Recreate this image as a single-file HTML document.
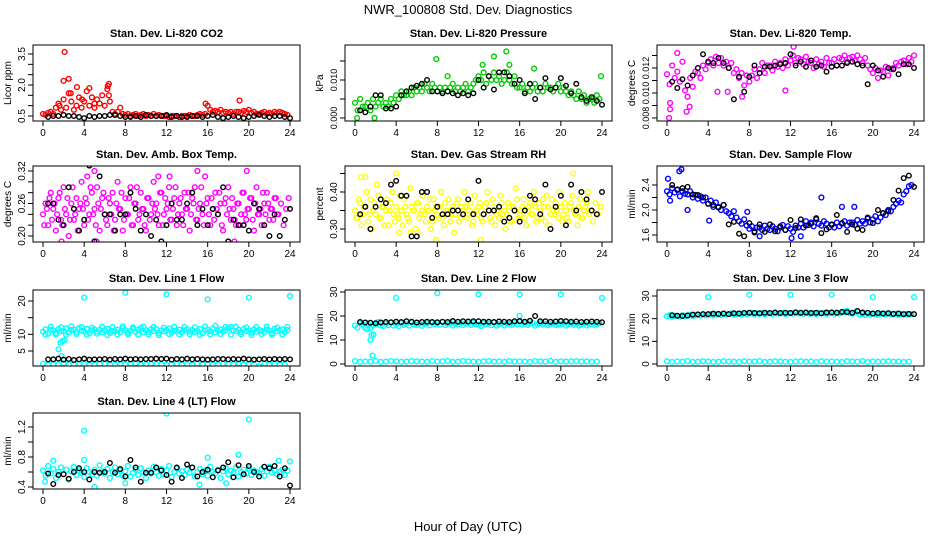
<!DOCTYPE html>
<html><head><meta charset="utf-8"><style>
html,body{margin:0;padding:0;background:#fff}
svg{display:block;font-family:"Liberation Sans",sans-serif}
</style></head><body>
<svg id="chart" width="936" height="540" viewBox="0 0 936 540" xmlns="http://www.w3.org/2000/svg">
<rect width="936" height="540" fill="#fff"/>
<text x="468" y="14" font-size="13" text-anchor="middle">NWR_100808  Std. Dev. Diagnostics</text>
<text x="468" y="531" font-size="13" text-anchor="middle">Hour of Day (UTC)</text>
</svg>
<script>
const xTicks=[0,4,8,12,16,20,24];
// ---- CO2 ----
const co2Red=[0.6,0.55,0.65,0.7,0.6,0.9,1.1,0.8,1.3,0.9,1.6,1.2,0.8,1.0,1.4,0.9,1.2,1.7,1.0,1.4,0.9,1.3,1.1,1.5,1.0,1.8,1.2,0.7,0.6,0.7,0.9,0.6,0.55,0.6,0.5,0.55,0.6,0.5,0.55,0.6,0.5,0.55,0.5,0.6,0.5,0.55,0.5,0.5,0.5,0.45,0.5,0.5,0.5,0.45,0.5,0.5,0.5,0.55,0.5,0.5,0.55,0.6,0.55,0.6,1.0,0.8,0.7,0.75,0.7,0.8,0.65,0.7,0.65,0.7,0.6,0.7,0.7,0.65,0.75,0.7,0.8,0.65,0.7,0.6,0.6,0.65,0.7,0.6,0.65,0.6,0.7,0.65,0.7,0.65,0.6,0.55];
const co2OutT=[2.1,2.0,2.5,3.3,4.5,6.4,6.3,6.4,19.1,3.8,2.7,5.0,15.8,1.6];
const co2OutV=[3.6,2.2,2.3,1.9,1.85,2.05,1.95,1.5,1.25,1.3,1.6,1.1,1.1,1.0];
const co2Black=[0.45,0.5,0.5,0.55,0.5,0.5,0.45,0.4,0.5,0.45,0.5,0.5,0.55,0.55,0.5,0.45,0.45,0.5,0.45,0.55,0.5,0.5,0.5,0.55,0.45,0.5,0.45,0.45,0.5,0.5,0.45,0.5,0.55,0.45,0.4,0.45,0.5,0.45,0.4,0.45,0.5,0.55,0.5,0.45,0.5,0.5,0.45,0.4];
// ---- Pressure ----
const presGreen=[0.004,0.002,0.005,0.003,0.003,0.004,0.002,0.005,0.003,0.004,0.005,0.003,0.004,0.003,0.005,0.004,0.006,0.005,0.007,0.006,0.006,0.007,0.006,0.008,0.007,0.008,0.007,0.009,0.008,0.007,0.009,0.008,0.007,0.008,0.007,0.008,0.007,0.008,0.009,0.007,0.008,0.007,0.008,0.009,0.007,0.008,0.009,0.010,0.011,0.010,0.012,0.009,0.011,0.010,0.012,0.010,0.011,0.009,0.010,0.012,0.010,0.009,0.011,0.008,0.008,0.009,0.007,0.008,0.007,0.008,0.009,0.007,0.008,0.007,0.009,0.008,0.008,0.007,0.008,0.009,0.007,0.008,0.007,0.006,0.007,0.006,0.005,0.007,0.005,0.006,0.004,0.005,0.005,0.004,0.006,0.005];
const presOutT=[7.9,0.2,1.9,14.7,13.5,15.0,23.9,12.4,9.0,17.4];
const presOutV=[0.0155,0.0,0.0,0.0175,0.0162,0.014,0.011,0.014,0.011,0.013];
const presBlack=[0.002,0.0015,0.003,0.006,0.006,0.0025,0.0025,0.003,0.006,0.007,0.008,0.0085,0.009,0.010,0.007,0.007,0.0065,0.007,0.0065,0.006,0.0065,0.006,0.0065,0.010,0.008,0.011,0.0075,0.012,0.012,0.011,0.009,0.010,0.0065,0.009,0.005,0.008,0.0105,0.0075,0.008,0.0105,0.0085,0.0065,0.009,0.0055,0.0045,0.0055,0.0045,0.0035];
// ---- Li-820 Temp ----
const tempMag=[0.0115,0.0107,0.0122,0.0112,0.0117,0.0109,0.0125,0.0102,0.0097,0.0112,0.0105,0.0117,0.0116,0.0112,0.0122,0.0119,0.0124,0.0127,0.0122,0.0129,0.0124,0.0128,0.0122,0.0125,0.0120,0.0124,0.0116,0.0119,0.0112,0.0116,0.0106,0.0114,0.0109,0.0114,0.0119,0.0112,0.0119,0.0124,0.0116,0.0122,0.0122,0.0118,0.0125,0.0121,0.0124,0.0120,0.0127,0.0122,0.0126,0.0130,0.0124,0.0128,0.0127,0.0123,0.0129,0.0125,0.0124,0.0120,0.0127,0.0123,0.0125,0.0121,0.0128,0.0124,0.0124,0.0127,0.0122,0.0128,0.0127,0.0130,0.0125,0.0128,0.0129,0.0126,0.0130,0.0127,0.0124,0.0128,0.0122,0.0119,0.0116,0.0120,0.0112,0.0118,0.0117,0.0121,0.0114,0.0119,0.0120,0.0124,0.0122,0.0125,0.0126,0.0123,0.0128,0.0125];
const tempOutT=[0.2,0.3,0.3,2.2,1.9,1.0,12.3,4.9,5.9,11.5,24,7.3];
const tempOutV=[0.0080,0.0087,0.0092,0.0089,0.0085,0.0132,0.0137,0.0101,0.0101,0.0102,0.0130,0.0097];
const tempBlack=[0.0109,0.0104,0.0111,0.0106,0.0114,0.0120,0.0131,0.0125,0.0124,0.0128,0.0124,0.0120,0.0095,0.0113,0.0101,0.0113,0.0122,0.0116,0.0121,0.0121,0.0122,0.0123,0.0124,0.0131,0.0122,0.0125,0.0121,0.0126,0.0121,0.0122,0.0117,0.0121,0.0122,0.0122,0.0124,0.0125,0.0123,0.0122,0.0107,0.0122,0.0118,0.0113,0.0120,0.0119,0.0115,0.0123,0.0123,0.0120];
// ---- Amb box temp ----
const ambMagA=[0.24,0.26,0.22,0.28,0.25,0.21,0.27,0.23,0.29,0.24,0.20,0.26,0.23,0.27,0.25,0.30,0.22,0.26,0.24,0.28,0.25,0.29,0.21,0.27,0.24,0.22,0.26,0.28,0.23,0.30,0.25,0.21,0.27,0.24,0.29,0.22,0.26,0.23,0.28,0.25,0.21,0.27,0.24,0.30,0.26,0.22,0.28,0.24,0.25,0.29,0.23,0.27,0.22,0.26,0.24,0.28,0.25,0.21,0.27,0.29,0.23,0.26,0.24,0.31,0.27,0.22,0.25,0.28,0.24,0.26,0.21,0.27,0.29,0.23,0.25,0.22,0.26,0.24,0.28,0.23,0.25,0.27,0.21,0.29,0.24,0.22,0.26,0.28,0.23,0.25,0.27,0.24];
const ambMagB=[0.22,0.25,0.27,0.23,0.26,0.24,0.28,0.22,0.25,0.27,0.23,0.29,0.24,0.21,0.26,0.25,0.27,0.23,0.29,0.24,0.22,0.26,0.25,0.28,0.23,0.27,0.24,0.21,0.26,0.25,0.28,0.23,0.24,0.27,0.22,0.26,0.29,0.24,0.25,0.22,0.27,0.23,0.26,0.25,0.24,0.28,0.22,0.27,0.26,0.23,0.25,0.29,0.24,0.27,0.22,0.25,0.28,0.24,0.26,0.23,0.25,0.29,0.22,0.26,0.24,0.27,0.23,0.25,0.28,0.22,0.26,0.24,0.25,0.27,0.23,0.26,0.22,0.28,0.24,0.25,0.27,0.23,0.26,0.24,0.25,0.28,0.24,0.26,0.25,0.23,0.27,0.24,0.26,0.22,0.25,0.27];
const ambOutT=[5.0,12.3,15.0,19.8,4.3,11.2,18.6,1.8,5.2];
const ambOutV=[0.32,0.31,0.32,0.32,0.31,0.31,0.19,0.19,0.19];
const ambBlack=[0.26,0.26,0.23,0.22,0.29,0.25,0.21,0.23,0.33,0.19,0.31,0.24,0.24,0.21,0.24,0.24,0.28,0.25,0.21,0.24,0.20,0.23,0.19,0.22,0.26,0.23,0.23,0.26,0.28,0.22,0.25,0.22,0.25,0.24,0.29,0.19,0.23,0.22,0.22,0.21,0.26,0.25,0.22,0.20,0.24,0.20,0.23,0.25];
// ---- Gas stream RH ----
const rhYelA=[0.35,0.33,0.37,0.34,0.36,0.32,0.38,0.35,0.34,0.39,0.33,0.36,0.35,0.31,0.37,0.34,0.36,0.33,0.35,0.38,0.34,0.32,0.36,0.35,0.37,0.33,0.35,0.34,0.36,0.38,0.32,0.35,0.34,0.36,0.33,0.37,0.35,0.32,0.36,0.34,0.38,0.33,0.35,0.36,0.34,0.37,0.32,0.35,0.36,0.33,0.34,0.37,0.35,0.32,0.36,0.34,0.33,0.37,0.35,0.34,0.36,0.32,0.35,0.38,0.34,0.36,0.33,0.35,0.37,0.34,0.36,0.33,0.35,0.38,0.32,0.36,0.34,0.35,0.37,0.33,0.36,0.34,0.35,0.32,0.37,0.35,0.34,0.36,0.33,0.35,0.37,0.34];
const rhYelB=[0.33,0.38,0.31,0.36,0.40,0.34,0.30,0.37,0.42,0.33,0.36,0.31,0.38,0.35,0.40,0.32,0.34,0.39,0.31,0.36,0.33,0.41,0.35,0.30,0.37,0.34,0.39,0.32,0.35,0.30,0.38,0.36,0.33,0.40,0.31,0.35,0.38,0.34,0.29,0.37,0.32,0.36,0.40,0.33,0.35,0.31,0.39,0.34,0.37,0.32,0.36,0.40,0.33,0.38,0.31,0.35,0.39,0.34,0.30,0.37,0.32,0.36,0.41,0.33,0.35,0.38,0.31,0.36,0.34,0.40,0.32,0.37,0.33,0.36,0.39,0.31,0.38,0.34,0.35,0.40,0.32,0.37,0.33,0.36,0.39,0.34,0.31,0.38,0.33,0.36,0.40,0.35,0.32,0.37,0.34,0.36];
const rhOutT=[0.6,1.0,4.0,12.2,21.2,7.9,4.3,5.4,6.1];
const rhOutV=[0.44,0.44,0.45,0.27,0.45,0.27,0.29,0.29,0.29];
const rhBlack=[0.34,0.36,0.30,0.36,0.38,0.37,0.42,0.43,0.39,0.39,0.28,0.28,0.40,0.40,0.33,0.36,0.34,0.34,0.35,0.35,0.34,0.38,0.34,0.43,0.34,0.35,0.35,0.36,0.32,0.33,0.35,0.32,0.35,0.39,0.38,0.34,0.42,0.30,0.36,0.39,0.31,0.42,0.35,0.40,0.38,0.35,0.34,0.40];
// ---- Sample flow ----
const sfBlue=[2.30,2.25,2.35,2.28,2.32,2.22,2.30,2.26,2.25,2.30,2.20,2.24,2.18,2.22,2.15,2.20,2.10,2.15,2.05,2.12,2.05,2.00,2.08,1.98,1.95,1.90,1.98,1.88,1.82,1.78,1.85,1.75,1.70,1.74,1.66,1.72,1.72,1.68,1.75,1.70,1.68,1.74,1.70,1.66,1.72,1.76,1.68,1.74,1.70,1.65,1.75,1.72,1.78,1.72,1.82,1.76,1.80,1.74,1.85,1.78,1.75,1.82,1.78,1.72,1.76,1.72,1.80,1.74,1.78,1.82,1.75,1.80,1.80,1.76,1.84,1.78,1.82,1.78,1.86,1.80,1.85,1.90,1.82,1.88,1.95,1.92,2.00,1.98,2.05,2.10,2.15,2.12,2.25,2.30,2.38,2.40];
const sfOutT=[1.2,1.4,0.1,2.0,15.0,17.0,18.2,4.1,12.1,7.8,0.3,9.0,13.0];
const sfOutV=[2.62,2.65,2.5,2.0,2.2,2.05,2.05,1.83,1.55,1.97,2.15,1.58,1.58];
const sfBlack=[2.40,2.33,2.35,2.37,2.25,2.24,2.20,2.10,2.08,2.04,2.08,1.77,1.81,1.62,1.58,1.79,1.64,1.77,1.65,1.77,1.66,1.74,1.68,1.84,1.71,1.85,1.75,1.78,1.87,1.63,1.69,1.77,1.92,1.79,1.65,1.77,1.70,1.68,1.88,1.79,2.00,1.95,1.98,2.16,2.31,2.51,2.55,2.37];
// ---- Line 1 flow ----
const l1Upper=[10.8,11.5,10.2,11.3,11.2,10.4,11.6,10.9,11.0,11.8,10.5,11.3,11.4,10.7,11.9,11.1,10.9,11.6,10.3,11.2,11.5,10.8,11.3,10.6,11.2,11.7,10.4,11.0,10.9,11.4,10.6,11.8,11.3,10.5,11.1,11.7,10.8,11.4,11.9,10.6,11.2,10.7,11.5,11.0,11.6,10.4,11.2,10.9,11.3,11.8,10.5,11.1,10.9,11.4,10.6,11.2,11.5,10.8,11.3,10.7,11.0,11.6,10.3,11.2,11.4,10.9,11.7,10.6,11.1,11.5,10.8,11.3,11.9,12.3,11.2,10.9,11.4,10.7,11.6,11.0,11.2,10.5,11.5,10.8,11.3,11.0,10.6,11.4,11.1,10.4,11.7,10.9,11.2,11.5,10.6,11.3];
const l1UpperB=[9.9,12.3,10.0,12.1,9.8,12.4,10.1,12.2,9.9,12.0,10.2,12.3,9.8,12.2,10.0,12.4,10.1,12.1,9.9,12.3,10.0,12.2,9.8,12.0,10.1,12.3,9.9,12.2,10.0,12.1,9.8,12.4,10.0,12.6,10.1,12.2,9.9,12.3,10.0,12.1,9.8,12.2,10.1,12.3,9.9,12.0,10.0,12.2];
const l1Lower=[1.2,0.9,1.1,1.0,1.3,0.9,1.0,1.2,1.1,0.9,1.0,1.2,1.1,1.0,0.9,1.2,1.0,1.1,1.3,0.9,1.0,1.2,1.1,1.0,0.9,1.1,1.2,1.0,1.1,0.9,1.2,1.0,1.1,1.0,0.9,1.2,1.1,1.0,1.3,0.9,1.1,1.0,0.4,1.2,1.0,1.1,0.9,1.0];
const l1OutT=[1.5,1.7,1.9,1.8,2.1,4.0,8.0,12.0,16.0,20.0,24.0];
const l1OutV=[5.5,7.5,8.0,3.5,8.2,21.0,22.5,22.0,20.5,21.0,21.5];
const l1Black=[2.5,2.5,2.7,2.4,2.6,2.3,2.5,2.7,2.4,2.5,2.5,2.6,2.4,2.6,2.5,2.7,2.5,2.6,2.5,2.6,2.6,2.7,2.6,2.7,2.4,2.6,2.5,2.7,2.5,2.6,2.5,2.4,2.5,2.6,2.6,2.5,2.6,2.5,2.7,2.5,2.4,2.5,2.6,2.5,2.6,2.5,2.6,2.5];
// ---- Line 2 flow ----
const l2Upper=[16.0,15.2,17.0,16.5,15.0,16.8,14.8,16.2,16.5,17.5,16.0,15.8,16.8,16.2,17.2,16.0,16.5,15.8,17.0,16.3,16.8,16.0,17.3,16.4,16.2,17.0,15.9,16.6,16.9,16.1,17.2,16.5,17.0,16.4,17.5,16.2,16.8,17.2,16.0,16.7,16.5,17.1,16.2,16.8,16.9,16.3,17.2,16.6,16.4,15.8,17.0,16.5,16.8,16.2,17.3,16.0,16.6,17.0,16.1,16.8,16.7,16.3,17.1,16.5,17.6,16.4,16.9,16.2,16.8,17.2,16.0,16.5,17.0,16.4,16.8,16.1,16.6,17.0,16.2,16.8,16.5,17.1,16.0,16.6,16.9,16.3,16.7,16.0,16.4,16.9,16.1,16.6,16.8,16.2,16.5,16.9];
const l2Lower=[1.2,0.9,1.1,1.0,1.3,0.9,1.0,1.2,1.1,0.9,1.0,1.2,1.1,1.0,0.9,1.2,1.0,1.1,1.3,0.9,1.0,1.2,1.1,1.0,0.9,1.1,1.2,1.0,1.1,0.9,1.2,1.0,1.1,1.0,0.9,1.2,1.1,1.0,1.3,0.9,1.1,1.0,1.1,1.2,1.0,1.1,0.9,1.0];
const l2OutT=[1.2,1.5,1.6,1.8,1.7,4.0,8.0,12.0,16.0,20.0,24.0,16.0,19.8];
const l2OutV=[14.5,10.0,12.0,12.3,3.5,27.5,29.5,29.0,29.0,29.0,27.5,20.0,16.5];
const l2Black=[17.5,17.3,17.2,17.0,17.3,17.5,17.4,17.6,17.5,17.8,17.6,17.3,17.5,17.6,17.5,17.4,17.6,17.5,17.9,17.6,17.8,17.7,17.8,17.8,17.6,17.6,17.5,17.7,17.6,17.5,17.8,17.9,17.6,18.0,20.0,17.8,17.8,17.6,17.7,17.9,17.8,17.6,17.7,17.5,17.6,17.7,17.6,17.4];
// ---- Line 3 flow ----
const l3Upper=[21.0,21.5,20.8,21.3,21.2,20.9,21.6,21.0,21.4,21.8,21.2,21.5,21.6,21.3,21.9,21.5,21.7,22.0,21.4,21.8,21.9,21.6,22.2,21.8,22.0,22.3,21.7,22.1,22.2,21.9,22.5,22.0,22.3,22.6,22.0,22.4,22.2,22.5,21.9,22.3,22.4,22.1,22.6,22.2,22.3,22.6,22.0,22.4,22.5,22.2,22.7,22.3,22.4,22.1,22.6,22.3,22.2,22.5,22.0,22.4,22.3,22.6,22.1,22.4,22.5,22.2,22.7,22.3,22.6,23.0,23.5,22.4,22.2,22.8,23.2,21.8,22.1,21.6,22.4,21.9,22.3,22.0,21.7,22.2,22.1,21.8,22.4,22.0,21.9,22.2,21.6,22.0,21.8,22.1,21.7,22.0];
const l3Lower=[1.2,0.9,1.1,1.0,1.3,0.9,1.0,1.2,1.1,0.9,1.0,1.2,1.1,1.0,0.9,1.2,1.0,1.1,1.3,0.9,1.0,1.2,1.1,1.0,0.9,1.1,1.2,1.0,1.1,0.9,1.2,1.0,1.1,1.0,0.9,1.2,1.1,1.0,1.3,0.9,1.1,1.0,1.1,1.2,1.0,1.1,0.9,1.0];
const l3OutT=[4.0,8.0,12.0,16.0,20.0,24.0];
const l3OutV=[29.5,30.5,30.5,30.5,29.5,29.5];
const l3Black=[21.5,21.3,21.2,21.4,21.8,21.9,22.0,22.0,22.2,22.1,22.3,22.0,22.4,22.3,22.5,22.6,22.5,22.4,22.6,22.5,22.7,22.5,22.6,22.5,22.8,22.6,22.7,22.5,22.6,22.4,22.7,22.8,22.6,23.0,22.9,22.6,23.4,22.7,22.6,22.3,22.5,22.3,22.4,22.1,22.3,22.0,22.1,22.0];
// ---- Line 4 flow ----
const l4Cyan=[0.62,0.55,0.68,0.58,0.64,0.52,0.60,0.66,0.57,0.63,0.50,0.61,0.67,0.56,0.62,0.59,0.53,0.65,0.60,0.57,0.63,0.55,0.69,0.61,0.58,0.64,0.52,0.60,0.66,0.57,0.62,0.55,0.61,0.68,0.54,0.59,0.63,0.56,0.65,0.60,0.52,0.62,0.58,0.67,0.60,0.55,0.64,0.57,0.62,0.68,0.53,0.60,0.65,0.58,0.61,0.56,0.63,0.59,0.66,0.54,0.60,0.64,0.57,0.62,0.55,0.67,0.60,0.58,0.63,0.52,0.61,0.65,0.57,0.62,0.59,0.66,0.54,0.60,0.63,0.58,0.65,0.56,0.62,0.60,0.58,0.64,0.55,0.61,0.67,0.59,0.62,0.57,0.60,0.63,0.56,0.62];
const l4OutT=[4.0,12.0,20.0,19.0,5.0,0.2,1.0,4.0,16.0,22.9,24.0,15.2,8.0,17.8];
const l4OutV=[1.15,1.38,1.3,0.83,0.4,0.47,0.75,0.76,0.79,0.75,0.74,0.43,0.45,0.45];
const l4Black=[0.58,0.44,0.56,0.57,0.51,0.60,0.65,0.60,0.50,0.60,0.59,0.60,0.72,0.59,0.64,0.54,0.76,0.66,0.47,0.59,0.59,0.66,0.62,0.56,0.47,0.66,0.52,0.70,0.66,0.54,0.60,0.63,0.53,0.62,0.66,0.73,0.53,0.69,0.57,0.68,0.60,0.54,0.67,0.65,0.68,0.54,0.65,0.42];

const NS='http://www.w3.org/2000/svg';
const svg=document.getElementById('chart');
const rowTops=[45,166,290,413];
function el(tag,attrs,parent){const e=document.createElementNS(NS,tag);for(const k in attrs)e.setAttribute(k,attrs[k]);(parent||svg).appendChild(e);return e;}

const panels=[
 {key:'co2',title:'Stan. Dev. Li-820 CO2',ylab:'Licor ppm',r:0,c:0,ref:[0.5,116,3.5,54],ticks:[0.5,1,1.5,2,2.5,3,3.5],labs:[0.5,2.0,3.5],dec:1,col:'#ff0000',
  series:[[co2Red,0,0.25]],outT:co2OutT,outV:co2OutV,black:co2Black},
 {key:'pressure',title:'Stan. Dev. Li-820 Pressure',ylab:'kPa',r:0,c:1,ref:[0,118,0.010,80],ticks:[0,0.005,0.010,0.015],labs:[0,0.010],dec:3,col:'#00cc00',
  series:[[presGreen,0,0.25]],outT:presOutT,outV:presOutV,black:presBlack},
 {key:'li820-temp',title:'Stan. Dev. Li-820 Temp.',ylab:'degrees C',r:0,c:2,ref:[0.008,118,0.012,68],ticks:[0.008,0.009,0.010,0.011,0.012,0.013],labs:[0.008,0.010,0.012],dec:3,col:'#ff00ff',
  series:[[tempMag,0,0.25]],outT:tempOutT,outV:tempOutV,black:tempBlack},
 {key:'amb-box-temp',title:'Stan. Dev. Amb. Box Temp.',ylab:'degrees C',r:1,c:0,ref:[0.20,236,0.32,171],ticks:[0.20,0.22,0.24,0.26,0.28,0.30,0.32],labs:[0.20,0.26,0.32],dec:2,col:'#ff00ff',
  series:[[ambMagA,0,0.25],[ambMagB,0.125,0.25]],outT:ambOutT,outV:ambOutV,black:ambBlack},
 {key:'gas-stream-rh',title:'Stan. Dev. Gas Stream RH',ylab:'percent',r:1,c:1,ref:[0.30,229,0.40,192],ticks:[0.30,0.35,0.40,0.45],labs:[0.30,0.40],dec:2,col:'#ffff00',
  series:[[rhYelA,0,0.25],[rhYelB,0.125,0.25]],outT:rhOutT,outV:rhOutV,black:rhBlack},
 {key:'sample-flow',title:'Stan. Dev. Sample Flow',ylab:'ml/min',r:1,c:2,ref:[1.6,235,2.4,185],ticks:[1.6,1.8,2.0,2.2,2.4],labs:[1.6,2.0,2.4],dec:1,col:'#0000ff',
  series:[[sfBlue,0,0.25]],outT:sfOutT,outV:sfOutV,black:sfBlack},
 {key:'line1-flow',title:'Stan. Dev. Line 1 Flow',ylab:'ml/min',r:2,c:0,ref:[5,351,20,301],ticks:[5,10,15,20],labs:[5,10,20],dec:0,col:'#00ffff',
  series:[[l1Upper,0,0.25],[l1UpperB,0.25,0.5],[l1Lower,0,0.5]],outT:l1OutT,outV:l1OutV,black:l1Black},
 {key:'line2-flow',title:'Stan. Dev. Line 2 Flow',ylab:'ml/min',r:2,c:1,ref:[0,364,30,292],ticks:[0,10,20,30],labs:[0,10,20,30],dec:0,col:'#00ffff',
  series:[[l2Upper,0,0.25],[l2Lower,0,0.5]],outT:l2OutT,outV:l2OutV,black:l2Black},
 {key:'line3-flow',title:'Stan. Dev. Line 3 Flow',ylab:'ml/min',r:2,c:2,ref:[0,364,30,296],ticks:[0,10,20,30],labs:[0,10,20,30],dec:0,col:'#00ffff',
  series:[[l3Upper,0,0.25],[l3Lower,0,0.5]],outT:l3OutT,outV:l3OutV,black:l3Black},
 {key:'line4-flow',title:'Stan. Dev. Line 4 (LT) Flow',ylab:'ml/min',r:3,c:0,ref:[0.4,487,1.2,427],ticks:[0.4,0.6,0.8,1.0,1.2],labs:[0.4,0.8,1.2],dec:1,col:'#00ffff',
  series:[[l4Cyan,0,0.25]],outT:l4OutT,outV:l4OutV,black:l4Black}
];

panels.forEach(p=>{
  const left=33+312*p.c, right=300+312*p.c, top=rowTops[p.r], bottom=top+76;
  const xs=h=>left+10+h*(247/24);
  const ys=v=>p.ref[1]+(v-p.ref[0])*(p.ref[3]-p.ref[1])/(p.ref[2]-p.ref[0]);
  const g=el('g',{});
  
  
  const t=el('text',{x:(left+right)/2,y:top-8,'font-size':11,'font-weight':'bold','text-anchor':'middle'},g);
  t.textContent=p.title;
  
  
  const yl=el('text',{x:0,y:0,'font-size':10,'text-anchor':'middle',transform:`translate(${left-22},${(top+bottom)/2}) rotate(-90)`},g);
  yl.textContent=p.ylab;
  
  
  const clip=el('clipPath',{id:'clip-'+p.key},g);
  el('rect',{x:left,y:top,width:right-left,height:bottom-top},clip);
  const marks=el('g',{'clip-path':`url(#clip-${p.key})`,fill:'none','stroke-width':1.4},g);
  
  
  p.series.forEach(s=>{
    s[0].forEach((v,i)=>{
      const c=el('circle',{cx:xs(s[1]+i*s[2]),cy:ys(v),r:2.4,stroke:p.col},marks);
      
      
    });
  });
  p.outT.forEach((h,i)=>{
    const c=el('circle',{cx:xs(h),cy:ys(p.outV[i]),r:2.4,stroke:p.col},marks);
    
    
  });
  p.black.forEach((v,i)=>{
    const c=el('circle',{cx:xs(0.5+i*0.5),cy:ys(v),r:2.3,stroke:'#000'},marks);
    
    
  });
  const box=el('rect',{x:left,y:top,width:right-left,height:bottom-top,fill:'none',stroke:'#000','stroke-width':1},g);
  
  
  xTicks.forEach(h=>{
    el('line',{x1:xs(h),x2:xs(h),y1:bottom,y2:bottom+5,stroke:'#000'},g);
    const tl=el('text',{x:xs(h),y:bottom+15,'font-size':10,'text-anchor':'middle'},g);
    tl.textContent=h;
    
    
  });
  p.ticks.forEach(v=>{
    el('line',{x1:left-5,x2:left,y1:ys(v),y2:ys(v),stroke:'#000'},g);
  });
  p.labs.forEach(v=>{
    const tl=el('text',{x:0,y:0,'font-size':p.dec===3?9:10,'text-anchor':'middle',transform:`translate(${left-8},${ys(v)}) rotate(-90)`},g);
    tl.textContent=v.toFixed(p.dec);
    
    
  });
});
</script>
</body></html>
